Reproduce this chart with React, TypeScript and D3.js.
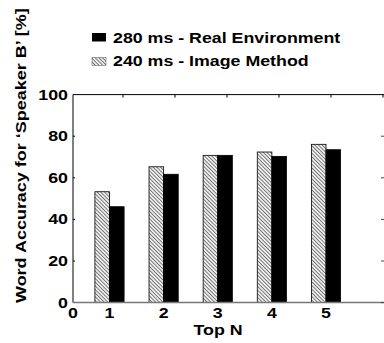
import React, { useRef, useEffect } from "react";
import { select, scaleLinear } from "d3";

const groups = [1, 2, 3, 4, 5];
const imageMethod = [53.3, 65.3, 70.8, 72.4, 76.1];
const realEnv = [46.1, 61.7, 70.8, 70.3, 73.5];
const yTicks = [0, 20, 40, 60, 80, 100];
const topTicks = [1, 2, 3, 4, 5, 6];
const legendLabels = ["280 ms - Real Environment", "240 ms - Image Method"];

const font = "Arial, 'Liberation Sans', Helvetica, sans-serif";
const stretch = 1.27;

function App() {
  const svgRef = useRef<SVGSVGElement>(null);

  useEffect(() => {
    const svg = select(svgRef.current);
    svg.selectAll("*").remove();

    const defs = svg.append("defs");
    const pat = defs
      .append("pattern")
      .attr("id", "hatch")
      .attr("patternUnits", "userSpaceOnUse")
      .attr("width", 2.6)
      .attr("height", 2.6)
      .attr("patternTransform", "rotate(-45)");
    pat.append("rect").attr("width", 2.6).attr("height", 2.6).attr("fill", "#eee");
    pat
      .append("line")
      .attr("x1", 0)
      .attr("y1", 0)
      .attr("x2", 0)
      .attr("y2", 2.6)
      .attr("stroke", "#333")
      .attr("stroke-width", 1.2);

    const y = scaleLinear().domain([0, 100]).range([302.6, 94.6]);
    // frame / top ticks scale
    const xFrame = scaleLinear().domain([0, 6]).range([73, 385]);
    // group centers
    const xGroup = scaleLinear().domain([1, 5]).range([109.5, 326]);
    const barW = 14.6;

    const g = svg.append("g");

    const label = (x: number, yy: number, txt: string, anchor = "start", size = 14) =>
      g
        .append("text")
        .attr("transform", `translate(${x},${yy}) scale(${stretch},1)`)
        .attr("text-anchor", anchor)
        .attr("font-family", font)
        .attr("font-weight", "bold")
        .attr("font-size", size)
        .text(txt);

    // bars
    g.selectAll(".hatched")
      .data(imageMethod)
      .join("rect")
      .attr("x", (d, i) => xGroup(groups[i]) - barW)
      .attr("y", (d) => y(d))
      .attr("width", barW)
      .attr("height", (d) => y(0) - y(d))
      .attr("fill", "url(#hatch)")
      .attr("stroke", "black")
      .attr("stroke-width", 0.8);

    g.selectAll(".solid")
      .data(realEnv)
      .join("rect")
      .attr("x", (d, i) => xGroup(groups[i]))
      .attr("y", (d) => y(d))
      .attr("width", barW)
      .attr("height", (d) => y(0) - y(d))
      .attr("fill", "black")
      .attr("stroke", "black")
      .attr("stroke-width", 0.8);

    // frame lines
    g.append("line")
      .attr("x1", xFrame(0)).attr("x2", xFrame(6))
      .attr("y1", y(100)).attr("y2", y(100))
      .attr("stroke", "black").attr("stroke-width", 1);
    g.append("line")
      .attr("x1", xFrame(0)).attr("x2", xFrame(0))
      .attr("y1", y(100)).attr("y2", y(0))
      .attr("stroke", "black").attr("stroke-width", 1);
    g.append("line")
      .attr("x1", xFrame(0)).attr("x2", xFrame(6))
      .attr("y1", y(0)).attr("y2", y(0))
      .attr("stroke", "#777").attr("stroke-width", 1.5);

    // top ticks
    g.selectAll(".ttick")
      .data(topTicks)
      .join("line")
      .attr("x1", (d) => xFrame(d) - 2)
      .attr("x2", (d) => xFrame(d) - 2)
      .attr("y1", y(100))
      .attr("y2", y(100) + 3)
      .attr("stroke", "black");

    // left / right ticks
    g.selectAll(".ltick")
      .data(yTicks.slice(1, 5))
      .join("line")
      .attr("x1", xFrame(0))
      .attr("x2", xFrame(0) + 2)
      .attr("y1", (d) => y(d))
      .attr("y2", (d) => y(d))
      .attr("stroke", "black");
    g.selectAll(".rtick")
      .data(yTicks.slice(0, 5))
      .join("line")
      .attr("x1", 381)
      .attr("x2", 384)
      .attr("y1", (d) => y(d))
      .attr("y2", (d) => y(d))
      .attr("stroke", "#444");

    // y tick labels
    yTicks.forEach((d) => label(68, y(d) + 5, String(d), "end", 14));

    // x tick labels
    label(xFrame(0), 318, "0", "middle", 14);
    groups.forEach((d) => label(xGroup(d), 318, String(d), "middle", 14));

    label(218, 335, "Top N", "middle", 14);

    g.append("text")
      .attr("transform", "translate(26,303) rotate(-90) scale(1.24,1)")
      .attr("font-family", font)
      .attr("font-weight", "bold")
      .attr("font-size", 14.5)
      .text("Word Accuracy for \u2018Speaker B\u2019 [%]");

    // legend
    g.append("rect")
      .attr("x", 92).attr("y", 33).attr("width", 14).attr("height", 8.5)
      .attr("fill", "black");
    g.append("rect")
      .attr("x", 92).attr("y", 57.5).attr("width", 14).attr("height", 8)
      .attr("fill", "url(#hatch)").attr("stroke", "#555").attr("stroke-width", 0.5);
    legendLabels.forEach((d, i) => label(113, 42.5 + i * 23, d, "start", 14));
  }, []);

  return (
    <div style={{ position: "absolute", left: 0, top: 0 }}>
      <svg ref={svgRef} width={384} height={343} style={{ display: "block", background: "white" }} />
    </div>
  );
}

export default App;
